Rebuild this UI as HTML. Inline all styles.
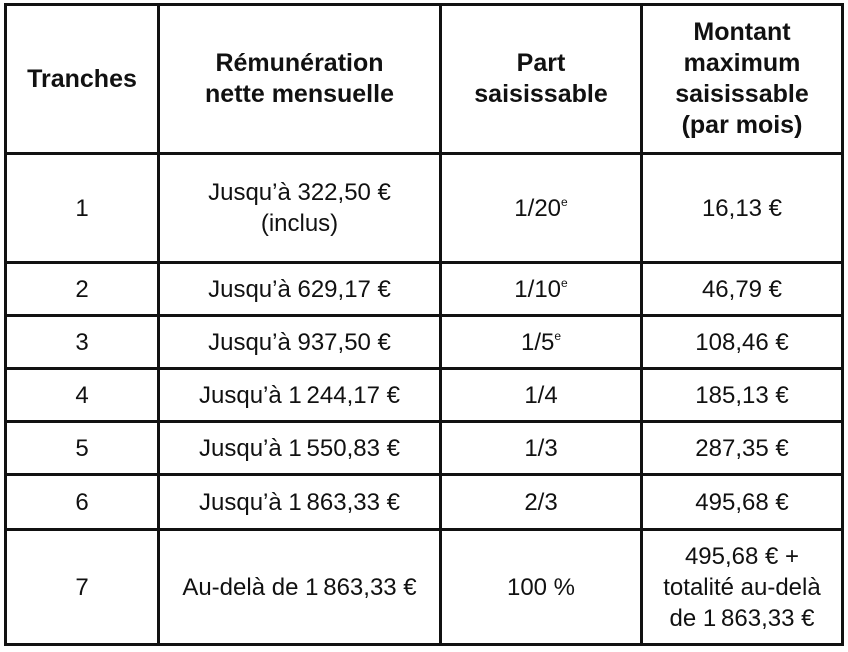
<!DOCTYPE html>
<html><head><meta charset="utf-8"><style>
body{margin:0;width:848px;height:652px;background:#fff;position:relative;overflow:hidden;font-family:"Liberation Sans",Arial,sans-serif;color:#111}
.h,.v{position:absolute;background:#111}
.h{height:3px;left:4px;width:840px}
.v{width:3px;top:3px;height:643px}
.c{position:absolute;display:flex;align-items:center;justify-content:center;text-align:center;font-size:24px;line-height:31px}
.b{font-weight:bold;font-size:25px;line-height:31px}
sup{font-size:12px;vertical-align:10px;line-height:0}
</style></head><body>
<div class="h" style="top:3px"></div>
<div class="h" style="top:152px"></div>
<div class="h" style="top:261px"></div>
<div class="h" style="top:314px"></div>
<div class="h" style="top:367px"></div>
<div class="h" style="top:420px"></div>
<div class="h" style="top:473px"></div>
<div class="h" style="top:528px"></div>
<div class="h" style="top:643px"></div>
<div class="v" style="left:4px"></div>
<div class="v" style="left:157px"></div>
<div class="v" style="left:439px"></div>
<div class="v" style="left:640px"></div>
<div class="v" style="left:841px"></div>

<div class="c b" style="left:7px;width:150px;top:6px;height:146px">Tranches</div>
<div class="c b" style="left:160px;width:279px;top:6px;height:146px">Rémunération<br>nette mensuelle</div>
<div class="c b" style="left:442px;width:198px;top:6px;height:146px">Part<br>saisissable</div>
<div class="c b" style="left:643px;width:198px;top:6px;height:146px">Montant<br>maximum<br>saisissable<br>(par mois)</div>

<div class="c" style="left:7px;width:150px;top:155px;height:106px">1</div>
<div class="c" style="left:160px;width:279px;top:155px;height:106px">Jusqu’à 322,50 €<br>(inclus)</div>
<div class="c" style="left:442px;width:198px;top:155px;height:106px"><span>1/20<sup>e</sup></span></div>
<div class="c" style="left:643px;width:198px;top:155px;height:106px">16,13 €</div>

<div class="c" style="left:7px;width:150px;top:264px;height:50px">2</div>
<div class="c" style="left:160px;width:279px;top:264px;height:50px">Jusqu’à 629,17 €</div>
<div class="c" style="left:442px;width:198px;top:264px;height:50px"><span>1/10<sup>e</sup></span></div>
<div class="c" style="left:643px;width:198px;top:264px;height:50px">46,79 €</div>

<div class="c" style="left:7px;width:150px;top:317px;height:50px">3</div>
<div class="c" style="left:160px;width:279px;top:317px;height:50px">Jusqu’à 937,50 €</div>
<div class="c" style="left:442px;width:198px;top:317px;height:50px"><span>1/5<sup>e</sup></span></div>
<div class="c" style="left:643px;width:198px;top:317px;height:50px">108,46 €</div>

<div class="c" style="left:7px;width:150px;top:370px;height:50px">4</div>
<div class="c" style="left:160px;width:279px;top:370px;height:50px">Jusqu’à 1&#8239;244,17 €</div>
<div class="c" style="left:442px;width:198px;top:370px;height:50px">1/4</div>
<div class="c" style="left:643px;width:198px;top:370px;height:50px">185,13 €</div>

<div class="c" style="left:7px;width:150px;top:423px;height:50px">5</div>
<div class="c" style="left:160px;width:279px;top:423px;height:50px">Jusqu’à 1&#8239;550,83 €</div>
<div class="c" style="left:442px;width:198px;top:423px;height:50px">1/3</div>
<div class="c" style="left:643px;width:198px;top:423px;height:50px">287,35 €</div>

<div class="c" style="left:7px;width:150px;top:476px;height:52px">6</div>
<div class="c" style="left:160px;width:279px;top:476px;height:52px">Jusqu’à 1&#8239;863,33 €</div>
<div class="c" style="left:442px;width:198px;top:476px;height:52px">2/3</div>
<div class="c" style="left:643px;width:198px;top:476px;height:52px">495,68 €</div>

<div class="c" style="left:7px;width:150px;top:531px;height:112px">7</div>
<div class="c" style="left:160px;width:279px;top:531px;height:112px">Au-delà de 1&#8239;863,33 €</div>
<div class="c" style="left:442px;width:198px;top:531px;height:112px">100 %</div>
<div class="c" style="left:643px;width:198px;top:531px;height:112px">495,68 € +<br>totalité au-delà<br>de 1&#8239;863,33 €</div>
</body></html>
